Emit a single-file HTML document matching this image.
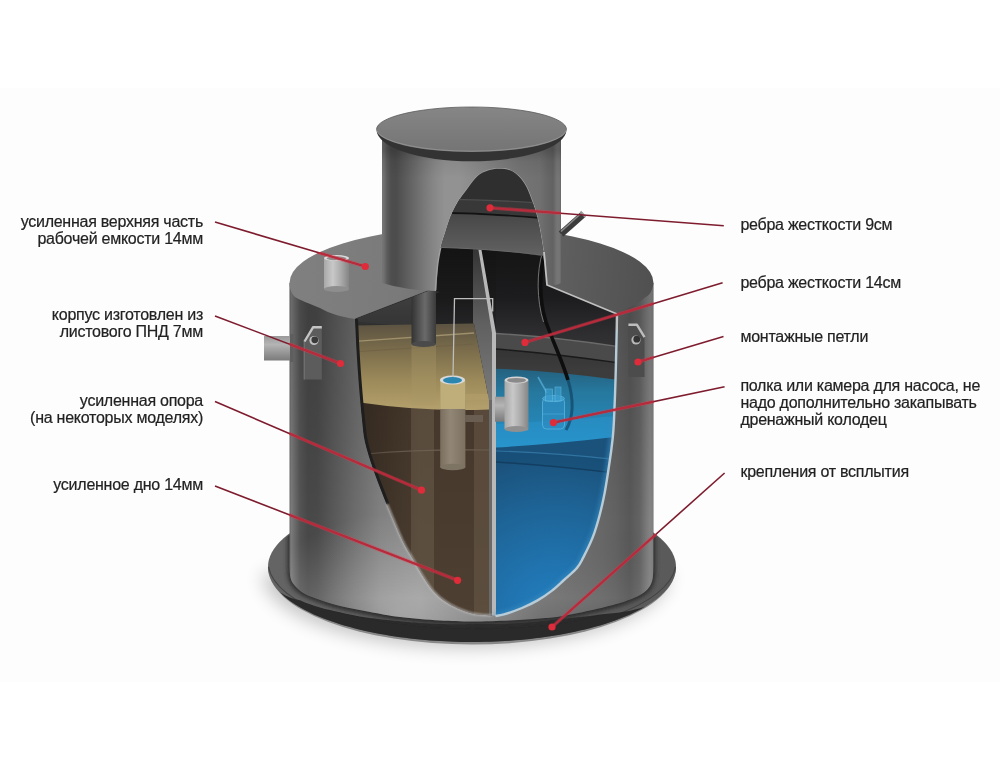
<!DOCTYPE html>
<html><head><meta charset="utf-8"><style>
html,body{margin:0;padding:0;background:#fff;width:1000px;height:772px;overflow:hidden}
svg{display:block}
text{font-family:"Liberation Sans",sans-serif;font-size:16px;letter-spacing:-0.25px;fill:#222;stroke:#222;stroke-width:0.2px}
</style></head><body>
<svg width="1000" height="772" viewBox="0 0 1000 772">
<defs>
  <filter id="blur8" x="-30%" y="-80%" width="160%" height="260%"><feGaussianBlur stdDeviation="9"/></filter>
  <filter id="blur2" x="-10%" y="-10%" width="120%" height="120%"><feGaussianBlur stdDeviation="2"/></filter>
  <filter id="blur1" x="-10%" y="-10%" width="120%" height="120%"><feGaussianBlur stdDeviation="0.9"/></filter>
  <linearGradient id="bodyH" x1="289.5" x2="653.5" y1="0" y2="0" gradientUnits="userSpaceOnUse">
    <stop offset="0.0000" stop-color="#696969"/>
    <stop offset="0.0055" stop-color="#7a7a7a"/>
    <stop offset="0.0124" stop-color="#6e6e6e"/>
    <stop offset="0.0288" stop-color="#545454"/>
    <stop offset="0.0508" stop-color="#484848"/>
    <stop offset="0.0783" stop-color="#4a4a4a"/>
    <stop offset="0.1250" stop-color="#5a5a5a"/>
    <stop offset="0.1799" stop-color="#6c6c6c"/>
    <stop offset="0.2486" stop-color="#808080"/>
    <stop offset="0.3585" stop-color="#8c8c8c"/>
    <stop offset="0.8530" stop-color="#686868"/>
    <stop offset="0.8942" stop-color="#626262"/>
    <stop offset="0.9354" stop-color="#585858"/>
    <stop offset="0.9629" stop-color="#646464"/>
    <stop offset="0.9794" stop-color="#787878"/>
    <stop offset="0.9904" stop-color="#848484"/>
    <stop offset="0.9973" stop-color="#808080"/>
    <stop offset="1.0000" stop-color="#696969"/>
  </linearGradient>
  <linearGradient id="bodyV" x1="0" x2="0" y1="285" y2="625" gradientUnits="userSpaceOnUse">
    <stop offset="0" stop-color="#000" stop-opacity="0.14"/>
    <stop offset="0.45" stop-color="#000" stop-opacity="0.06"/>
    <stop offset="0.7" stop-color="#000" stop-opacity="0.0"/>
    <stop offset="0.92" stop-color="#fff" stop-opacity="0.05"/>
    <stop offset="1" stop-color="#000" stop-opacity="0.05"/>
  </linearGradient>
  <linearGradient id="neckH" x1="382" x2="561" y1="0" y2="0" gradientUnits="userSpaceOnUse">
    <stop offset="0.0000" stop-color="#767676"/>
    <stop offset="0.0112" stop-color="#707070"/>
    <stop offset="0.0279" stop-color="#5c5c5c"/>
    <stop offset="0.0503" stop-color="#4e4e4e"/>
    <stop offset="0.0782" stop-color="#4c4c4c"/>
    <stop offset="0.1285" stop-color="#5a5a5a"/>
    <stop offset="0.1844" stop-color="#6a6a6a"/>
    <stop offset="0.2402" stop-color="#7a7a7a"/>
    <stop offset="0.2961" stop-color="#888888"/>
    <stop offset="0.3520" stop-color="#929292"/>
    <stop offset="0.4358" stop-color="#929292"/>
    <stop offset="0.6592" stop-color="#7e7e7e"/>
    <stop offset="0.7709" stop-color="#747474"/>
    <stop offset="0.8827" stop-color="#707070"/>
    <stop offset="0.9274" stop-color="#666666"/>
    <stop offset="0.9553" stop-color="#626262"/>
    <stop offset="0.9777" stop-color="#767676"/>
    <stop offset="0.9944" stop-color="#737373"/>
    <stop offset="1.0000" stop-color="#646464"/>
  </linearGradient>
  <linearGradient id="neckV" x1="0" x2="0" y1="150" y2="292" gradientUnits="userSpaceOnUse">
    <stop offset="0" stop-color="#000" stop-opacity="0.2"/>
    <stop offset="0.08" stop-color="#000" stop-opacity="0.06"/>
    <stop offset="0.2" stop-color="#000" stop-opacity="0.0"/>
    <stop offset="1" stop-color="#000" stop-opacity="0.0"/>
  </linearGradient>
  <linearGradient id="topSurf" x1="290" x2="654" y1="262" y2="290" gradientUnits="userSpaceOnUse">
    <stop offset="0" stop-color="#808080"/>
    <stop offset="0.3" stop-color="#7a7a7a"/>
    <stop offset="0.75" stop-color="#5e5e5e"/>
    <stop offset="1" stop-color="#505050"/>
  </linearGradient>
  <linearGradient id="lidTop" x1="0" x2="0" y1="107" y2="152" gradientUnits="userSpaceOnUse">
    <stop offset="0" stop-color="#868686"/>
    <stop offset="1" stop-color="#747474"/>
  </linearGradient>
  <linearGradient id="flangeTop" x1="268" x2="676" y1="0" y2="0" gradientUnits="userSpaceOnUse">
    <stop offset="0" stop-color="#646464"/>
    <stop offset="0.5" stop-color="#5e5e5e"/>
    <stop offset="1" stop-color="#5a5a5a"/>
  </linearGradient>
  <linearGradient id="tan" x1="0" x2="0" y1="326" y2="410" gradientUnits="userSpaceOnUse">
    <stop offset="0" stop-color="#5e5442"/>
    <stop offset="0.06" stop-color="#645a44"/>
    <stop offset="0.3" stop-color="#7c6e4c"/>
    <stop offset="0.65" stop-color="#9c8a5a"/>
    <stop offset="1" stop-color="#b4a06c"/>
  </linearGradient>
  <linearGradient id="brown" x1="0" x2="0" y1="400" y2="615" gradientUnits="userSpaceOnUse">
    <stop offset="0" stop-color="#45372b"/>
    <stop offset="1" stop-color="#4d3f31"/>
  </linearGradient>
  <radialGradient id="blueDeep" cx="555" cy="615" r="160" gradientUnits="userSpaceOnUse">
    <stop offset="0" stop-color="#2280c0"/>
    <stop offset="0.3" stop-color="#2074b0"/>
    <stop offset="0.65" stop-color="#1e6598"/>
    <stop offset="1" stop-color="#1b527c"/>
  </radialGradient>
  <linearGradient id="blueSurf" x1="0" x2="0" y1="368" y2="448" gradientUnits="userSpaceOnUse">
    <stop offset="0" stop-color="#24607e"/>
    <stop offset="0.3" stop-color="#26789e"/>
    <stop offset="0.7" stop-color="#2586b6"/>
    <stop offset="1" stop-color="#2596cc"/>
  </linearGradient>
  <linearGradient id="pipeV" x1="0" x2="1" y1="0" y2="0">
    <stop offset="0" stop-color="#a8a8a8"/>
    <stop offset="0.35" stop-color="#c8c8c8"/>
    <stop offset="0.7" stop-color="#a8a8a8"/>
    <stop offset="1" stop-color="#858585"/>
  </linearGradient>
  <linearGradient id="pipeH" x1="0" x2="0" y1="0" y2="1">
    <stop offset="0" stop-color="#9a9a9a"/>
    <stop offset="0.35" stop-color="#b4b4b4"/>
    <stop offset="1" stop-color="#7a7a7a"/>
  </linearGradient>
  <linearGradient id="darkPipe" x1="0" x2="1" y1="0" y2="0">
    <stop offset="0" stop-color="#333"/>
    <stop offset="0.55" stop-color="#6a6a6a"/>
    <stop offset="1" stop-color="#3a3a3a"/>
  </linearGradient>
  <linearGradient id="archBand" x1="0" x2="0" y1="214" y2="256" gradientUnits="userSpaceOnUse">
    <stop offset="0" stop-color="#474747"/>
    <stop offset="1" stop-color="#626262"/>
  </linearGradient>
  <radialGradient id="bodyGlow" cx="400" cy="612" r="110" gradientTransform="translate(400 612) scale(1.3 0.9) translate(-400 -612)" gradientUnits="userSpaceOnUse">
    <stop offset="0" stop-color="#fff" stop-opacity="0.26"/>
    <stop offset="0.5" stop-color="#fff" stop-opacity="0.14"/>
    <stop offset="1" stop-color="#fff" stop-opacity="0"/>
  </radialGradient>
  <linearGradient id="brownShade" x1="360" x2="420" y1="0" y2="0" gradientUnits="userSpaceOnUse">
    <stop offset="0" stop-color="#000" stop-opacity="0.25"/>
    <stop offset="1" stop-color="#000" stop-opacity="0"/>
  </linearGradient>
  <linearGradient id="rcGrad" x1="0" x2="0" y1="250" y2="370" gradientUnits="userSpaceOnUse">
    <stop offset="0" stop-color="#151515"/>
    <stop offset="0.4" stop-color="#1c1c1e"/>
    <stop offset="0.7" stop-color="#2e2e30"/>
    <stop offset="1" stop-color="#3c3c3c"/>
  </linearGradient>
  <clipPath id="flangeClip"><ellipse cx="472" cy="567" rx="203" ry="74"/></clipPath>
  <linearGradient id="floatGrad" x1="0" x2="1" y1="0" y2="0">
    <stop offset="0" stop-color="#7a6e5e"/>
    <stop offset="0.4" stop-color="#928676"/>
    <stop offset="1" stop-color="#7c7060"/>
  </linearGradient>
  <filter id="txtf" x="-2%" y="-5%" width="104%" height="110%"><feOffset dx="0" dy="0"/></filter>
  <linearGradient id="intGrad" x1="0" x2="0" y1="250" y2="330" gradientUnits="userSpaceOnUse">
    <stop offset="0" stop-color="#141414"/>
    <stop offset="0.6" stop-color="#1a1a1b"/>
    <stop offset="1" stop-color="#262628"/>
  </linearGradient>
  <linearGradient id="ceilGrad" x1="0" x2="0" y1="292" y2="326" gradientUnits="userSpaceOnUse">
    <stop offset="0" stop-color="#4a4a4a"/>
    <stop offset="0.5" stop-color="#3a3a3a"/>
    <stop offset="1" stop-color="#2e2e2e"/>
  </linearGradient>
  <clipPath id="tankClip">
    <path d="M289.5,283 L289.5,566 C289.7,568.0 289.6,574.7 290.5,578.0 C291.4,581.3 292.6,583.3 295.0,586.0 C297.4,588.7 300.8,591.7 305.0,594.0 C309.2,596.3 314.2,598.0 320.0,600.0 C325.8,602.0 331.7,604.0 340.0,606.0 C348.3,608.0 360.0,610.2 370.0,612.0 C380.0,613.8 388.3,615.6 400.0,617.0 C411.7,618.4 428.0,619.8 440.0,620.5 C452.0,621.2 460.3,621.5 472.0,621.5 C483.7,621.5 498.7,621.0 510.0,620.5 C521.3,620.0 531.7,619.2 540.0,618.5 C548.3,617.8 551.7,617.8 560.0,616.5 C568.3,615.2 580.2,612.7 590.0,610.5 C599.8,608.3 611.0,605.7 618.5,603.5 C626.0,601.3 630.8,599.3 635.0,597.5 C639.2,595.7 641.5,594.4 644.0,592.5 C646.5,590.6 648.5,588.4 650.0,586.0 C651.5,583.6 652.2,581.3 652.8,578.0 C653.4,574.7 653.4,568.0 653.5,566.0 L653.5,283 Z"/>
    <path d="M382,128 L561,128 L561,290 L382,290 Z"/>
    <ellipse cx="472" cy="567" rx="204" ry="75"/>
    <ellipse cx="471.5" cy="132" rx="95" ry="26"/>
    <ellipse cx="472" cy="283" rx="182.5" ry="56"/>
  </clipPath>
  <linearGradient id="divFace" x1="0" x2="0" y1="247" y2="400" gradientUnits="userSpaceOnUse">
    <stop offset="0" stop-color="#333"/>
    <stop offset="0.5" stop-color="#606060"/>
    <stop offset="1" stop-color="#7a7a7a"/>
  </linearGradient>
  <clipPath id="interiorClip"><path d="M355.5,319 L430.6,290 L436.5,290 L438.5,247.5 Q490,248.5 545,256.5 L547,285 L617,314 C616.9,318.3 616.8,329.0 616.5,340.0 C616.2,351.0 615.9,366.7 615.5,380.0 C615.1,393.3 614.5,410.0 614.0,420.0 C613.5,430.0 613.3,432.8 612.5,440.0 C611.7,447.2 610.9,453.6 609.4,463.3 C607.9,473.0 606.1,486.6 603.6,498.3 C601.1,510.0 597.8,523.0 594.2,533.3 C590.6,543.6 585.0,554.0 582.0,560.0 C579.0,566.0 579.0,565.7 576.0,569.0 C573.0,572.3 568.0,576.4 564.0,580.0 C560.0,583.6 556.4,587.2 552.0,590.6 C547.6,594.0 542.6,597.5 537.6,600.4 C532.6,603.3 527.6,605.7 522.0,608.0 C516.4,610.3 508.4,613.1 504.0,614.4 C499.6,615.7 496.9,615.7 495.5,616.0 L491.6,615.6 C488.6,615.3 479.2,615.0 473.6,613.8 C468.0,612.6 462.8,610.5 458.0,608.4 C453.2,606.3 449.0,604.2 444.8,601.2 C440.6,598.2 436.6,594.8 432.8,590.4 C429.0,586.0 425.4,580.2 422.0,574.8 C418.6,569.4 415.7,563.8 412.4,558.0 C409.1,552.2 406.4,549.0 402.2,540.0 C398.0,531.0 391.7,515.7 387.0,504.0 C382.3,492.3 377.6,480.3 374.0,470.0 C370.4,459.7 367.4,450.3 365.5,442.0 C363.6,433.7 363.7,430.3 362.6,420.0 C361.5,409.7 359.9,391.7 359.0,380.0 C358.1,368.3 357.6,360.2 357.0,350.0 C356.4,339.8 355.8,324.2 355.5,319.0 Z"/></clipPath>
  <clipPath id="archClip">
    <path d="M435.4,291.0 C435.5,288.8 435.9,282.9 436.3,278.0 C436.8,273.1 437.3,266.8 438.1,261.6 C438.9,256.4 439.7,251.8 440.9,247.0 C442.1,242.2 443.8,237.6 445.4,232.5 C447.0,227.4 448.7,221.3 450.8,216.2 C452.9,211.1 455.4,206.2 458.1,201.7 C460.8,197.2 463.9,193.3 467.2,189.0 C470.4,184.7 474.1,179.1 477.6,176.0 C481.1,172.9 484.4,171.7 488.0,170.5 C491.6,169.3 495.3,168.8 499.0,168.8 C502.7,168.8 506.7,169.0 510.0,170.3 C513.3,171.6 516.2,173.7 519.0,176.5 C521.8,179.3 524.3,182.8 526.5,187.0 C528.7,191.2 530.7,197.0 532.4,201.7 C534.1,206.4 535.3,210.4 536.5,215.0 C537.7,219.6 538.6,223.1 539.7,229.0 C540.8,234.9 542.4,245.2 543.3,250.7 C544.2,256.2 544.7,260.1 545.0,262.0 L547,286 Z"/>
  </clipPath>
</defs>
<rect width="1000" height="772" fill="#fff"/>
<rect x="0" y="88" width="1000" height="594" fill="#fdfdfd"/>

<!-- shadow under base -->
<path d="M268,567 A204,75 0 0,0 676,567 Z" transform="translate(-6 6)" fill="#000" opacity="0.22" filter="url(#blur8)"/>

<!-- flange -->
<path d="M268,567 A204,77.5 0 0,0 676,567 Z" fill="#888"/>
<ellipse cx="472" cy="567" rx="204" ry="75" fill="url(#flangeTop)"/>
<path d="M268.5,567 A204,75 0 0,0 675.5,567" stroke="#444" stroke-width="1.2" fill="none"/>
<path d="M280.0,592.3 L285.0,597.0 L290.0,600.9 L295.0,604.3 L300.0,607.3 L305.0,610.1 L310.0,612.6 L315.0,614.9 L320.0,617.0 L325.0,619.0 L330.0,620.8 L335.0,622.6 L340.0,624.2 L345.0,625.7 L350.0,627.1 L355.0,628.4 L360.0,629.7 L365.0,630.9 L370.0,632.0 L375.0,633.0 L380.0,633.9 L385.0,634.8 L390.0,635.7 L395.0,636.5 L400.0,637.2 L405.0,637.8 L410.0,638.5 L415.0,639.0 L420.0,639.5 L425.0,640.0 L430.0,640.4 L435.0,640.8 L440.0,641.1 L445.0,641.3 L450.0,641.6 L455.0,641.7 L460.0,641.9 L465.0,642.0 L470.0,642.0 L475.0,642.0 L480.0,641.9 L485.0,641.8 L490.0,641.7 L495.0,641.5 L500.0,641.3 L505.0,641.0 L510.0,640.7 L515.0,640.3 L520.0,639.9 L525.0,639.4 L530.0,638.9 L535.0,638.3 L540.0,637.7 L545.0,637.0 L550.0,636.3 L555.0,635.5 L560.0,634.7 L565.0,633.8 L570.0,632.8 L575.0,631.7 L580.0,630.6 L585.0,629.4 L590.0,628.2 L595.0,626.8 L600.0,625.4 L605.0,623.9 L610.0,622.2 L615.0,620.5 L620.0,618.6 L625.0,616.6 L630.0,614.4 L635.0,612.1 L640.0,609.5 L645.0,606.7 L645.0,606.7 L640.0,608.3 L635.0,609.6 L630.0,610.7 L625.0,611.6 L620.0,612.4 L615.0,613.1 L610.0,613.6 L605.0,614.1 L600.0,614.4 L595.0,615.2 L590.0,615.9 L585.0,616.6 L580.0,617.1 L575.0,617.6 L570.0,618.0 L565.0,618.4 L560.0,618.7 L555.0,619.4 L550.0,620.1 L545.0,620.7 L540.0,621.3 L535.0,621.8 L530.0,622.2 L525.0,622.6 L520.0,623.0 L515.0,623.3 L510.0,623.6 L505.0,623.8 L500.0,623.9 L495.0,624.0 L490.0,624.1 L485.0,624.1 L480.0,624.1 L475.0,624.1 L470.0,624.1 L465.0,624.2 L460.0,624.2 L455.0,624.2 L450.0,624.2 L445.0,624.1 L440.0,624.0 L435.0,623.8 L430.0,623.6 L425.0,623.3 L420.0,623.0 L415.0,622.6 L410.0,622.2 L405.0,621.7 L400.0,621.2 L395.0,620.8 L390.0,620.3 L385.0,619.8 L380.0,619.3 L375.0,618.6 L370.0,618.0 L365.0,617.2 L360.0,616.4 L355.0,615.4 L350.0,614.4 L345.0,613.4 L340.0,612.2 L335.0,611.2 L330.0,610.1 L325.0,608.9 L320.0,607.5 L315.0,606.0 L310.0,604.3 L305.0,602.4 L300.0,600.3 L295.0,599.2 L290.0,597.5 L285.0,595.3 L280.0,592.3 Z" fill="#2a2a2a"/>
<g clip-path="url(#flangeClip)"><path d="M289.5,283 L289.5,566 C289.7,568.0 289.6,574.7 290.5,578.0 C291.4,581.3 292.6,583.3 295.0,586.0 C297.4,588.7 300.8,591.7 305.0,594.0 C309.2,596.3 314.2,598.0 320.0,600.0 C325.8,602.0 331.7,604.0 340.0,606.0 C348.3,608.0 360.0,610.2 370.0,612.0 C380.0,613.8 388.3,615.6 400.0,617.0 C411.7,618.4 428.0,619.8 440.0,620.5 C452.0,621.2 460.3,621.5 472.0,621.5 C483.7,621.5 498.7,621.0 510.0,620.5 C521.3,620.0 531.7,619.2 540.0,618.5 C548.3,617.8 551.7,617.8 560.0,616.5 C568.3,615.2 580.2,612.7 590.0,610.5 C599.8,608.3 611.0,605.7 618.5,603.5 C626.0,601.3 630.8,599.3 635.0,597.5 C639.2,595.7 641.5,594.4 644.0,592.5 C646.5,590.6 648.5,588.4 650.0,586.0 C651.5,583.6 652.2,581.3 652.8,578.0 C653.4,574.7 653.4,568.0 653.5,566.0 L653.5,283 Z" transform="translate(472 566) scale(1.012 1.07) translate(-472 -566)" fill="#2e2e2e" filter="url(#blur2)"/></g>

<!-- main body -->
<path d="M289.5,283 L289.5,566 C289.7,568.0 289.6,574.7 290.5,578.0 C291.4,581.3 292.6,583.3 295.0,586.0 C297.4,588.7 300.8,591.7 305.0,594.0 C309.2,596.3 314.2,598.0 320.0,600.0 C325.8,602.0 331.7,604.0 340.0,606.0 C348.3,608.0 360.0,610.2 370.0,612.0 C380.0,613.8 388.3,615.6 400.0,617.0 C411.7,618.4 428.0,619.8 440.0,620.5 C452.0,621.2 460.3,621.5 472.0,621.5 C483.7,621.5 498.7,621.0 510.0,620.5 C521.3,620.0 531.7,619.2 540.0,618.5 C548.3,617.8 551.7,617.8 560.0,616.5 C568.3,615.2 580.2,612.7 590.0,610.5 C599.8,608.3 611.0,605.7 618.5,603.5 C626.0,601.3 630.8,599.3 635.0,597.5 C639.2,595.7 641.5,594.4 644.0,592.5 C646.5,590.6 648.5,588.4 650.0,586.0 C651.5,583.6 652.2,581.3 652.8,578.0 C653.4,574.7 653.4,568.0 653.5,566.0 L653.5,283 Z" fill="url(#bodyH)"/>
<path d="M289.5,283 L289.5,566 C289.7,568.0 289.6,574.7 290.5,578.0 C291.4,581.3 292.6,583.3 295.0,586.0 C297.4,588.7 300.8,591.7 305.0,594.0 C309.2,596.3 314.2,598.0 320.0,600.0 C325.8,602.0 331.7,604.0 340.0,606.0 C348.3,608.0 360.0,610.2 370.0,612.0 C380.0,613.8 388.3,615.6 400.0,617.0 C411.7,618.4 428.0,619.8 440.0,620.5 C452.0,621.2 460.3,621.5 472.0,621.5 C483.7,621.5 498.7,621.0 510.0,620.5 C521.3,620.0 531.7,619.2 540.0,618.5 C548.3,617.8 551.7,617.8 560.0,616.5 C568.3,615.2 580.2,612.7 590.0,610.5 C599.8,608.3 611.0,605.7 618.5,603.5 C626.0,601.3 630.8,599.3 635.0,597.5 C639.2,595.7 641.5,594.4 644.0,592.5 C646.5,590.6 648.5,588.4 650.0,586.0 C651.5,583.6 652.2,581.3 652.8,578.0 C653.4,574.7 653.4,568.0 653.5,566.0 L653.5,283 Z" fill="url(#bodyV)"/>
<path d="M289.5,283 L289.5,566 C289.7,568.0 289.6,574.7 290.5,578.0 C291.4,581.3 292.6,583.3 295.0,586.0 C297.4,588.7 300.8,591.7 305.0,594.0 C309.2,596.3 314.2,598.0 320.0,600.0 C325.8,602.0 331.7,604.0 340.0,606.0 C348.3,608.0 360.0,610.2 370.0,612.0 C380.0,613.8 388.3,615.6 400.0,617.0 C411.7,618.4 428.0,619.8 440.0,620.5 C452.0,621.2 460.3,621.5 472.0,621.5 C483.7,621.5 498.7,621.0 510.0,620.5 C521.3,620.0 531.7,619.2 540.0,618.5 C548.3,617.8 551.7,617.8 560.0,616.5 C568.3,615.2 580.2,612.7 590.0,610.5 C599.8,608.3 611.0,605.7 618.5,603.5 C626.0,601.3 630.8,599.3 635.0,597.5 C639.2,595.7 641.5,594.4 644.0,592.5 C646.5,590.6 648.5,588.4 650.0,586.0 C651.5,583.6 652.2,581.3 652.8,578.0 C653.4,574.7 653.4,568.0 653.5,566.0 L653.5,283 Z" fill="url(#bodyGlow)"/>

<!-- top surface of main body -->
<path d="M289.5,283 A182,56 0 0,1 653.5,283 C652.5,291 649,296 645.5,297 C640,302 633,306 617,313 L547,285 L430.6,290 L355.5,319 C342,317 330,314 320,308 C310,304 300,300 295,297 C291,293 289.5,288 289.5,283 Z" fill="url(#topSurf)"/>
<path d="M355.5,319 L430.6,290" stroke="#3a3a3a" stroke-width="1.2" fill="none"/>

<!-- interior -->
<g clip-path="url(#interiorClip)">
  <rect x="340" y="240" width="300" height="390" fill="url(#intGrad)"/>
  <path d="M350,321 L432,290 L436,290 L436,326 L358,326 Z" fill="url(#ceilGrad)"/>
  <path d="M350,321 L432,290 L440,292 L411.5,302 L411.5,327 Z" fill="#3a3a3a" opacity="0.6"/>
  <!-- brown liquid -->
  <path d="M350,400 L490,407 L490,620 L350,620 Z" fill="url(#brown)"/>
  <rect x="411" y="405" width="23" height="215" fill="#6e604e" opacity="0.5"/>
  <rect x="474" y="405" width="16" height="215" fill="#6e604e" opacity="0.45"/>
  <path d="M365,454 Q420,449 490,450" stroke="#6a5e50" stroke-width="1.2" fill="none"/>
  <rect x="350" y="400" width="80" height="220" fill="url(#brownShade)"/>
  <!-- tan surface -->
  <path d="M350,325.5 L474,323.5 L489,400 L489,409.4 Q425,412 360,402.4 Z" fill="url(#tan)"/>
  <path d="M352,341.5 L474,333" stroke="#b0a27a" stroke-width="1.3" fill="none" opacity="0.75"/>
  <path d="M352,352 L474,344" stroke="#6e6046" stroke-width="1" fill="none" opacity="0.7"/>
  <rect x="411.5" y="345" width="24.5" height="60" fill="#a89868" opacity="0.35"/>
  <!-- dark inlet pipe -->
  <rect x="411.5" y="288" width="24.5" height="56" fill="url(#darkPipe)"/>
  <ellipse cx="423.7" cy="344" rx="12.25" ry="3" fill="#4a4a4a"/>
  <!-- float pipe -->
  <rect x="440.2" y="380" width="25.2" height="87" fill="url(#floatGrad)"/>
  <rect x="440.2" y="380" width="25.2" height="29" fill="#c0ae7a"/>
  <ellipse cx="452.8" cy="467" rx="12.6" ry="3.2" fill="#7e7464"/>
  <rect x="465" y="415" width="18" height="7" fill="#6a5e52"/>
  <ellipse cx="452.5" cy="380" rx="12.5" ry="4.5" fill="#d8d8d8"/>
  <ellipse cx="452.5" cy="380.3" rx="9.5" ry="3.2" fill="#2b86b0"/>
  <rect x="465" y="394" width="24" height="6" fill="#b09c68" opacity="0.7"/>
  <!-- divider -->
  <path d="M473,247 L479.5,247 L492.5,333 L492.5,400 L489,400 L474,323.5 L473,323.5 Z" fill="url(#divFace)"/>
  <path d="M489,400 L492.5,400 L492.5,620 L489,620 Z" fill="#6a6a6a"/>
  <path d="M478,247 L481,247 L496,333 L496,620 L492,620 L492,333 Z" fill="#b8b8b8"/>
  <path d="M453,377 L454.5,298.6 L492.7,298.6 L492.7,311.5" stroke="#bdbdbd" stroke-width="1.3" fill="none"/>
  <!-- right chamber -->
  <path d="M496,250 L640,250 L640,620 L496,620 Z" fill="url(#rcGrad)"/>
  <path d="M496,333.5 Q560,337 640,350 L640,366 Q560,354 496,349 Z" fill="#4a4a4a"/>
  <path d="M496,333.5 Q560,337 640,350" stroke="#6a6a6a" stroke-width="1.3" fill="none"/>
  <path d="M496,349 Q560,354 640,366" stroke="#1a1a1a" stroke-width="1.3" fill="none"/>
  <!-- water -->
  <path d="M496,368.7 Q560,371 640,383 L640,620 L496,620 Z" fill="url(#blueSurf)"/>
  <path d="M496,424 Q560,421 640,414 L640,620 L496,620 Z" fill="#2a93cc" opacity="0.55"/>
  <path d="M496,447.5 Q560,444 640,434 L640,620 L496,620 Z" fill="url(#blueDeep)"/>
  <path d="M496,451 Q560,453 640,462 L640,476 Q560,466 496,462 Z" fill="#184e76" opacity="0.6"/>
  <path d="M496,451 Q560,453 640,462" stroke="#3a82b0" stroke-width="1.2" fill="none" opacity="0.7"/>
  <path d="M496,462 Q560,466 640,476" stroke="#123a5a" stroke-width="1.4" fill="none" opacity="0.8"/>
  <!-- tee pipe -->
  <rect x="495" y="396.7" width="11" height="25" fill="url(#pipeH)"/>
  <rect x="504.5" y="380" width="24" height="49" fill="url(#pipeV)"/>
  <ellipse cx="516.5" cy="429" rx="12" ry="3" fill="#909090"/>
  <ellipse cx="516.5" cy="380" rx="12" ry="3.5" fill="#d4d4d4"/>
  <ellipse cx="516.5" cy="380.3" rx="9.5" ry="2.4" fill="#8a8a8a"/>
  <!-- pump -->
  <path d="M538,377 L547,393" stroke="#5ab4e0" stroke-width="1.6" opacity="0.7"/>
  <rect x="542.5" y="398" width="22" height="31" rx="4" fill="#2e8cc0" stroke="#5cb8e4" stroke-width="1" opacity="0.75"/>
  <ellipse cx="553.5" cy="398.5" rx="11" ry="3" fill="#3a9ccc" stroke="#6cc0e8" stroke-width="0.8" opacity="0.8"/>
  <rect x="545.5" y="389" width="7" height="12" fill="#3a9ccc" stroke="#6cc0e8" stroke-width="0.7" opacity="0.7"/>
  <rect x="555" y="387" width="6" height="14" fill="#3a9ccc" stroke="#6cc0e8" stroke-width="0.7" opacity="0.7"/>
  <path d="M543,414 L564,414" stroke="#5cb8e4" stroke-width="0.8" opacity="0.6"/>
  <!-- cable -->
  <path d="M545,252 C539,272 539,300 546,322 C553,342 562,360 568,380" stroke="#0e0e0e" stroke-width="3.6" fill="none"/>
  <path d="M542.5,252 C536.5,272 536.5,300 543.5,322" stroke="#8a8a8a" stroke-width="1" fill="none" opacity="0.8"/>
  <path d="M568,380 C574,400 573,418 566,430" stroke="#0e3a58" stroke-width="3" fill="none" opacity="0.6"/>
  <!-- soft edge glow on blue -->
  <path d="M614.0,420.0 C613.8,423.3 613.3,432.8 612.5,440.0 C611.7,447.2 610.9,453.6 609.4,463.3 C607.9,473.0 606.1,486.6 603.6,498.3 C601.1,510.0 597.8,523.0 594.2,533.3 C590.6,543.6 585.0,554.0 582.0,560.0 C579.0,566.0 579.0,565.7 576.0,569.0 C573.0,572.3 568.0,576.4 564.0,580.0 C560.0,583.6 556.4,587.2 552.0,590.6 C547.6,594.0 542.6,597.5 537.6,600.4 C532.6,603.3 527.6,605.7 522.0,608.0 C516.4,610.3 508.4,613.1 504.0,614.4 C499.6,615.7 496.9,615.7 495.5,616.0" stroke="#3a8cc0" stroke-width="7" fill="none" opacity="0.6" filter="url(#blur2)"/>
</g>

<!-- right cut edge highlight -->
<path d="M617.0,314.0 C616.9,318.3 616.8,329.0 616.5,340.0 C616.2,351.0 615.9,366.7 615.5,380.0 C615.1,393.3 614.5,410.0 614.0,420.0 C613.5,430.0 613.3,432.8 612.5,440.0 C611.7,447.2 610.9,453.6 609.4,463.3 C607.9,473.0 606.1,486.6 603.6,498.3 C601.1,510.0 597.8,523.0 594.2,533.3 C590.6,543.6 585.0,554.0 582.0,560.0 C579.0,566.0 579.0,565.7 576.0,569.0 C573.0,572.3 568.0,576.4 564.0,580.0 C560.0,583.6 556.4,587.2 552.0,590.6 C547.6,594.0 542.6,597.5 537.6,600.4 C532.6,603.3 527.6,605.7 522.0,608.0 C516.4,610.3 508.4,613.1 504.0,614.4 C499.6,615.7 496.9,615.7 495.5,616.0" stroke="#b8ccd8" stroke-width="2.4" fill="none"/>
<!-- left cut edge -->
<path d="M355.5,319.0 C355.8,324.2 356.4,339.8 357.0,350.0 C357.6,360.2 358.1,368.3 359.0,380.0 C359.9,391.7 361.5,409.7 362.6,420.0 C363.7,430.3 363.6,433.7 365.5,442.0 C367.4,450.3 370.4,459.7 374.0,470.0 C377.6,480.3 384.8,498.3 387.0,504.0" stroke="#1e1e1e" stroke-width="3" fill="none" transform="translate(1 0)"/>
<path d="M387.0,504.0 C389.5,510.0 398.0,531.0 402.2,540.0 C406.4,549.0 409.1,552.2 412.4,558.0 C415.7,563.8 418.6,569.4 422.0,574.8 C425.4,580.2 429.0,586.0 432.8,590.4 C436.6,594.8 440.6,598.2 444.8,601.2 C449.0,604.2 453.2,606.3 458.0,608.4 C462.8,610.5 468.0,612.6 473.6,613.8 C479.2,615.0 488.6,615.3 491.6,615.6" stroke="#c4c4c4" stroke-width="1.5" fill="none" filter="url(#blur1)"/>

<!-- neck -->
<path d="M382,131 L561,131 L561,283 Q556,285.5 547,286 L545,262 C544.7,260.1 544.2,256.2 543.3,250.7 C542.4,245.2 540.8,234.9 539.7,229.0 C538.6,223.1 537.7,219.6 536.5,215.0 C535.3,210.4 534.1,206.4 532.4,201.7 C530.7,197.0 528.7,191.2 526.5,187.0 C524.3,182.8 521.8,179.3 519.0,176.5 C516.2,173.7 513.3,171.6 510.0,170.3 C506.7,169.0 502.7,168.8 499.0,168.8 C495.3,168.8 491.6,169.3 488.0,170.5 C484.4,171.7 481.1,172.9 477.6,176.0 C474.1,179.1 470.4,184.7 467.2,189.0 C463.9,193.3 460.8,197.2 458.1,201.7 C455.4,206.2 452.9,211.1 450.8,216.2 C448.7,221.3 447.0,227.4 445.4,232.5 C443.8,237.6 442.1,242.2 440.9,247.0 C439.7,251.8 438.9,256.4 438.1,261.6 C437.3,266.8 436.8,273.1 436.3,278.0 C435.9,282.9 435.5,288.8 435.4,291.0 Q405,290 382,283 Z" fill="url(#neckH)"/>
<path d="M382,131 L561,131 L561,283 Q556,285.5 547,286 L545,262 C544.7,260.1 544.2,256.2 543.3,250.7 C542.4,245.2 540.8,234.9 539.7,229.0 C538.6,223.1 537.7,219.6 536.5,215.0 C535.3,210.4 534.1,206.4 532.4,201.7 C530.7,197.0 528.7,191.2 526.5,187.0 C524.3,182.8 521.8,179.3 519.0,176.5 C516.2,173.7 513.3,171.6 510.0,170.3 C506.7,169.0 502.7,168.8 499.0,168.8 C495.3,168.8 491.6,169.3 488.0,170.5 C484.4,171.7 481.1,172.9 477.6,176.0 C474.1,179.1 470.4,184.7 467.2,189.0 C463.9,193.3 460.8,197.2 458.1,201.7 C455.4,206.2 452.9,211.1 450.8,216.2 C448.7,221.3 447.0,227.4 445.4,232.5 C443.8,237.6 442.1,242.2 440.9,247.0 C439.7,251.8 438.9,256.4 438.1,261.6 C437.3,266.8 436.8,273.1 436.3,278.0 C435.9,282.9 435.5,288.8 435.4,291.0 Q405,290 382,283 Z" fill="url(#neckV)"/>

<!-- arch interior -->
<path d="M435.4,291.0 C435.5,288.8 435.9,282.9 436.3,278.0 C436.8,273.1 437.3,266.8 438.1,261.6 C438.9,256.4 439.7,251.8 440.9,247.0 C442.1,242.2 443.8,237.6 445.4,232.5 C447.0,227.4 448.7,221.3 450.8,216.2 C452.9,211.1 455.4,206.2 458.1,201.7 C460.8,197.2 463.9,193.3 467.2,189.0 C470.4,184.7 474.1,179.1 477.6,176.0 C481.1,172.9 484.4,171.7 488.0,170.5 C491.6,169.3 495.3,168.8 499.0,168.8 C502.7,168.8 506.7,169.0 510.0,170.3 C513.3,171.6 516.2,173.7 519.0,176.5 C521.8,179.3 524.3,182.8 526.5,187.0 C528.7,191.2 530.7,197.0 532.4,201.7 C534.1,206.4 535.3,210.4 536.5,215.0 C537.7,219.6 538.6,223.1 539.7,229.0 C540.8,234.9 542.4,245.2 543.3,250.7 C544.2,256.2 544.7,260.1 545.0,262.0" stroke="#a0a0a0" stroke-width="1.4" fill="none"/>
<g clip-path="url(#archClip)">
  <path d="M425,165 L550,165 L550,257 Q490,248.5 425,247.5 Z" fill="#2f2f2f"/>
  <path d="M425,199 Q490,199 550,204 L550,219 Q490,213 425,212.5 Z" fill="#383838"/>
  <path d="M425,199 Q490,199 550,204" stroke="#4c4c4c" stroke-width="1.3" fill="none"/>
  <path d="M425,212.5 Q490,213 550,219" stroke="#121212" stroke-width="1.6" fill="none"/>
  <path d="M425,213.5 Q490,214 550,220 L550,256 Q490,248 425,247 Z" fill="url(#archBand)"/>
  <path d="M425,247 Q490,248 550,256" stroke="#6a6a6a" stroke-width="1" fill="none"/>

</g>
<path d="M544,252 L547,285 L617,314" stroke="#c0c0c0" stroke-width="1.8" fill="none"/>
<path d="M617,314 L617,330" stroke="#c0c0c0" stroke-width="2" fill="none"/>

<!-- small pipe top right -->
<path d="M561,234 L583,214.5" stroke="#3c3c3c" stroke-width="7" stroke-linecap="butt"/>
<path d="M561,231.5 L582,212.5" stroke="#8a8a8a" stroke-width="1.6"/>
<path d="M580.5,211.5 L585.5,217" stroke="#9a9a9a" stroke-width="2"/>

<!-- lid -->
<path d="M376.5,129.5 A95,31.8 0 0,0 566.5,129.5 Z" fill="#333"/>
<ellipse cx="471.5" cy="129.5" rx="95" ry="22.5" fill="url(#lidTop)"/>
<path d="M376.5,129.5 A95,22.5 0 0,1 566.5,129.5" stroke="#5a5a5a" stroke-width="0.8" fill="none"/>
<path d="M377,131 A95,22.5 0 0,0 566,131" stroke="#9a9a9a" stroke-width="0.9" fill="none" opacity="0.8"/>

<!-- top short pipe -->
<rect x="324" y="258" width="25" height="31" fill="url(#pipeV)"/>
<ellipse cx="336.5" cy="289" rx="12.5" ry="3" fill="#8e8e8e"/>
<ellipse cx="336.5" cy="258" rx="12.5" ry="3" fill="#dcdcdc"/>
<ellipse cx="336.5" cy="258.3" rx="10" ry="2" fill="#8e8e8e"/>

<!-- left horizontal pipe -->
<rect x="264" y="336" width="28" height="24.5" fill="url(#pipeH)"/>
<rect x="290" y="334" width="3.5" height="28" fill="#5e5e5e"/>

<!-- lugs -->
<path d="M304.3,341 L313,327 L321.8,327 L321.8,379.5 L304.3,379.5 Z" fill="#5c5c5c"/>
<path d="M304.3,341 L304.3,379.5" stroke="#6e6e6e" stroke-width="1.5" fill="none"/>
<path d="M304.5,341.5 L313,327.3 L321.8,327.3" stroke="#c4c4c4" stroke-width="2.4" fill="none" stroke-linejoin="round"/>
<circle cx="314" cy="340.5" r="4.6" fill="#c0c0c0"/>
<circle cx="314.8" cy="339.8" r="3.4" fill="#3a3a3a"/>
<path d="M628.4,324.5 L637,324.5 L644.5,337 L644.5,377 L628.4,377 Z" fill="#4c4c4c"/>
<path d="M628.4,324.8 L637,324.8 L644.5,337.2" stroke="#bdbdbd" stroke-width="2.4" fill="none" stroke-linejoin="round"/>
<circle cx="636" cy="340" r="4.6" fill="#b8b8b8"/>
<circle cx="636.8" cy="339.2" r="3.4" fill="#333"/>

<!-- leader lines -->
<g stroke="#7e1c2e" stroke-width="1.6" fill="none">
  <path d="M215,222 L365.3,266.5"/>
  <path d="M215,316 L340.5,363.5"/>
  <path d="M215,401.6 L421.5,490.2"/>
  <path d="M215,485.9 L457.6,580.3"/>
  <path d="M723.8,225.7 L490,207.8"/>
  <path d="M722.6,282.8 L525,342.4"/>
  <path d="M723.5,336.5 L638,362"/>
  <path d="M724.6,386.7 L553.4,422.6"/>
  <path d="M724.6,473 L552,627"/>
</g>
<g clip-path="url(#tankClip)" fill="none">
<g stroke="#e03a4a" stroke-width="3.6" opacity="0.45">
  <path d="M215,222 L365.3,266.5"/>
  <path d="M215,316 L340.5,363.5"/>
  <path d="M215,401.6 L421.5,490.2"/>
  <path d="M215,485.9 L457.6,580.3"/>
  <path d="M723.8,225.7 L490,207.8"/>
  <path d="M722.6,282.8 L525,342.4"/>
  <path d="M723.5,336.5 L638,362"/>
  <path d="M724.6,386.7 L553.4,422.6"/>
  <path d="M724.6,473 L552,627"/>
</g>
<g stroke="#b82a3c" stroke-width="1.8">
  <path d="M215,222 L365.3,266.5"/>
  <path d="M215,316 L340.5,363.5"/>
  <path d="M215,401.6 L421.5,490.2"/>
  <path d="M215,485.9 L457.6,580.3"/>
  <path d="M723.8,225.7 L490,207.8"/>
  <path d="M722.6,282.8 L525,342.4"/>
  <path d="M723.5,336.5 L638,362"/>
  <path d="M724.6,386.7 L553.4,422.6"/>
  <path d="M724.6,473 L552,627"/>
</g>
</g>
<g fill="#de2c3a">
  <circle cx="365.3" cy="266.5" r="3.6"/>
  <circle cx="340.5" cy="363.5" r="3.6"/>
  <circle cx="421.5" cy="490.2" r="3.6"/>
  <circle cx="457.6" cy="580.3" r="3.6"/>
  <circle cx="490" cy="207.8" r="3.6"/>
  <circle cx="525" cy="342.4" r="3.6"/>
  <circle cx="638" cy="362" r="3.6"/>
  <circle cx="553.4" cy="422.6" r="3.6"/>
  <circle cx="552" cy="627" r="3.6"/>
</g>

<!-- labels -->
<g filter="url(#txtf)">
<g text-anchor="end">
  <text x="203" y="226.7">усиленная верхняя часть</text>
  <text x="203" y="244.2">рабочей емкости 14мм</text>
  <text x="203" y="319.6">корпус изготовлен из</text>
  <text x="203" y="336.8">листового ПНД 7мм</text>
  <text x="203" y="406.4">усиленная опора</text>
  <text x="203" y="422.9">(на некоторых моделях)</text>
  <text x="203" y="489.8">усиленное дно 14мм</text>
</g>
<g>
  <text x="740.4" y="230">ребра жесткости 9см</text>
  <text x="740.4" y="288.4">ребра жесткости 14см</text>
  <text x="740.4" y="342.1">монтажные петли</text>
  <text x="740.4" y="390.7">полка или камера для насоса, не</text>
  <text x="740.4" y="408.3">надо дополнительно закапывать</text>
  <text x="740.4" y="425.3">дренажный колодец</text>
  <text x="740.4" y="476.6">крепления от всплытия</text>
</g>
</g>
</svg>
</body></html>
